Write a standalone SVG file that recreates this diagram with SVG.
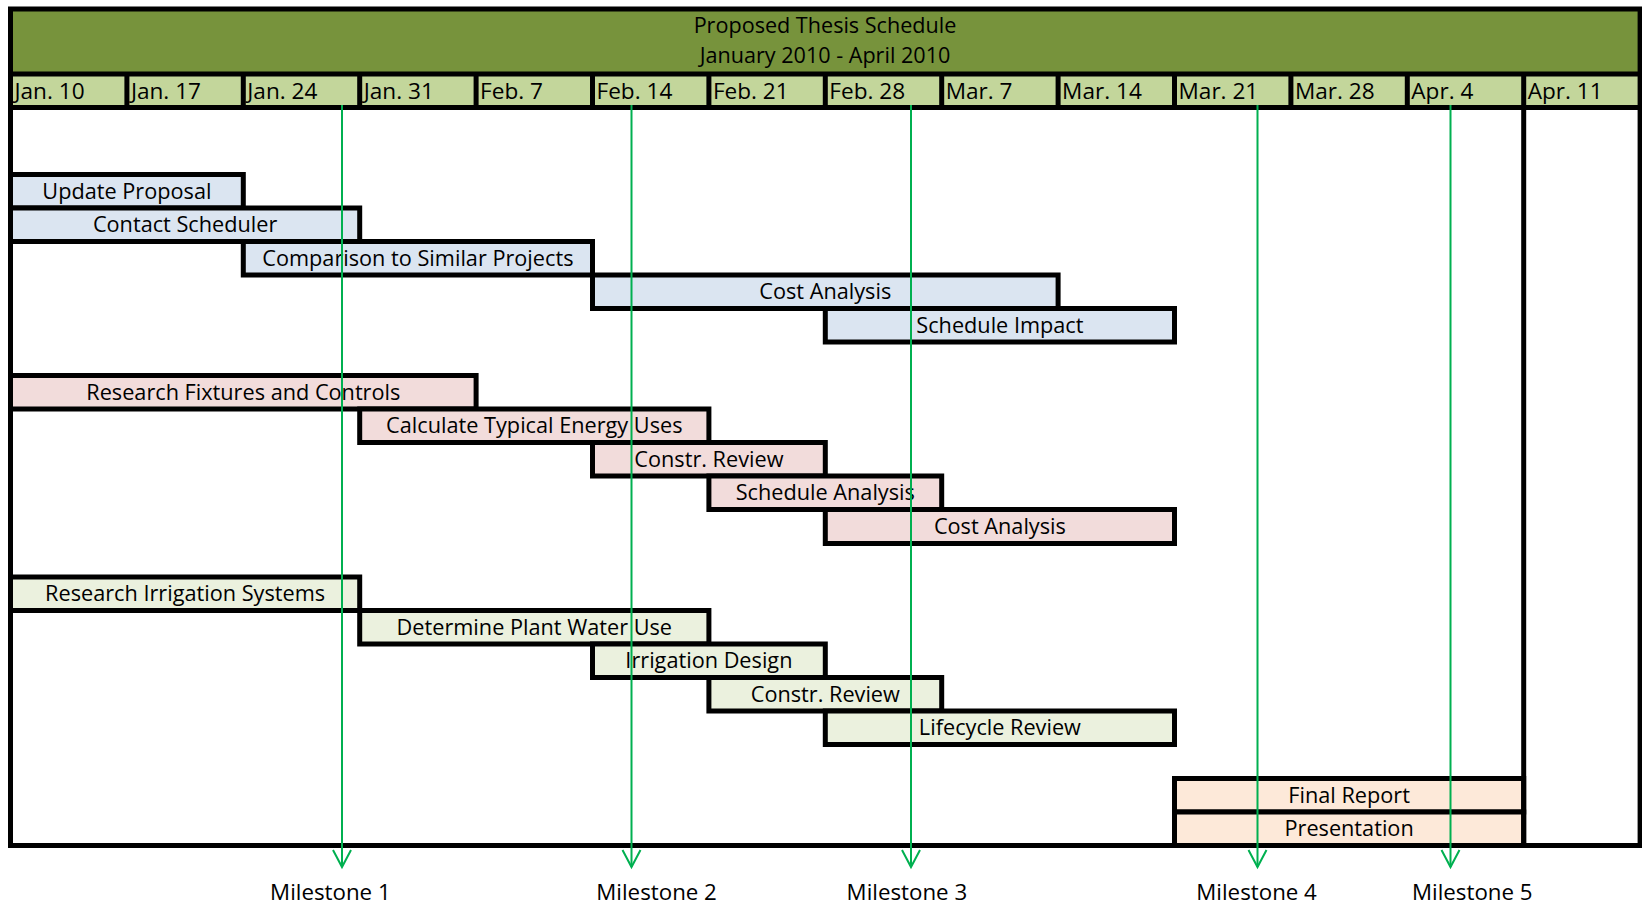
<svg xmlns="http://www.w3.org/2000/svg" width="1642" height="905" viewBox="0 0 1642 905">
<style>
text{font-family:"Open Sans","Liberation Sans",sans-serif;font-size:21.7px;fill:#000}
.c{text-anchor:middle}
.d{font-size:22.6px}
.m{font-size:22.3px}
.t{font-size:21.6px}
.bar{stroke:#000;stroke-width:5}
.blue{fill:#DBE5F1}.pink{fill:#F2DCDB}.grn{fill:#EBF1DE}.org{fill:#FDE9D9}
.date{fill:#C3D69B}
.ln{stroke:#000;stroke-width:5;fill:none}
.ms{stroke:#00B050;stroke-width:2;fill:none;marker-end:url(#ah)}
</style>
<defs>
<marker id="ah" markerUnits="userSpaceOnUse" markerWidth="24" markerHeight="24" viewBox="-20 -12 24 24" refX="0" refY="0" orient="auto">
<path d="M-17,-9 L0,0 L-17,9" fill="none" stroke="#00B050" stroke-width="2"/>
</marker>
</defs>
<rect width="1642" height="905" fill="#fff"/>
<g id="title">
<rect x="10.5" y="9" width="1629.6" height="65" fill="#77933C"/>
<text class="c t" x="825" y="33">Proposed Thesis Schedule</text>
<text class="c t" x="825" y="63">January 2010 - April 2010</text>
</g>
<g id="dates">
<rect class="date" x="10.5" y="74" width="1629.6" height="33.5"/>
<text class="d" x="14.5" y="99">Jan. 10</text>
<text class="d" x="130.9" y="99">Jan. 17</text>
<text class="d" x="247.3" y="99">Jan. 24</text>
<text class="d" x="363.7" y="99">Jan. 31</text>
<text class="d" x="480.1" y="99">Feb. 7</text>
<text class="d" x="596.5" y="99">Feb. 14</text>
<text class="d" x="712.9" y="99">Feb. 21</text>
<text class="d" x="829.3" y="99">Feb. 28</text>
<text class="d" x="945.7" y="99">Mar. 7</text>
<text class="d" x="1062.1" y="99">Mar. 14</text>
<text class="d" x="1178.5" y="99">Mar. 21</text>
<text class="d" x="1294.9" y="99">Mar. 28</text>
<text class="d" x="1411.3" y="99">Apr. 4</text>
<text class="d" x="1527.7" y="99">Apr. 11</text>
<path class="ln" d="M126.9,74V107.5M243.3,74V107.5M359.7,74V107.5M476.1,74V107.5M592.5,74V107.5M708.9,74V107.5M825.3,74V107.5M941.7,74V107.5M1058.1,74V107.5M1174.5,74V107.5M1290.9,74V107.5M1407.3,74V107.5"/>
</g>
<g id="bar-update-proposal"><rect class="bar blue" x="10.5" y="174.5" width="232.8" height="33.5"/><text class="c" x="126.9" y="198.5">Update Proposal</text></g>
<g id="bar-contact-scheduler"><rect class="bar blue" x="10.5" y="208" width="349.2" height="33.5"/><text class="c" x="185.1" y="232">Contact Scheduler</text></g>
<g id="bar-comparison"><rect class="bar blue" x="243.3" y="241.5" width="349.2" height="33.5"/><text class="c" x="417.9" y="265.5">Comparison to Similar Projects</text></g>
<g id="bar-cost-analysis-1"><rect class="bar blue" x="592.5" y="275" width="465.6" height="33.5"/><text class="c" x="825.3" y="299">Cost Analysis</text></g>
<g id="bar-schedule-impact"><rect class="bar blue" x="825.3" y="308.5" width="349.2" height="33.5"/><text class="c" x="999.9" y="332.5">Schedule Impact</text></g>

<g id="bar-research-fixtures"><rect class="bar pink" x="10.5" y="375.5" width="465.6" height="33.5"/><text class="c" x="243.3" y="399.5">Research Fixtures and Controls</text></g>
<g id="bar-calculate-energy"><rect class="bar pink" x="359.7" y="409" width="349.2" height="33.5"/><text class="c" x="534.3" y="433">Calculate Typical Energy Uses</text></g>
<g id="bar-constr-review-1"><rect class="bar pink" x="592.5" y="442.5" width="232.8" height="33.5"/><text class="c" x="708.9" y="466.5">Constr. Review</text></g>
<g id="bar-schedule-analysis"><rect class="bar pink" x="708.9" y="476" width="232.8" height="33.5"/><text class="c" x="825.3" y="500">Schedule Analysis</text></g>
<g id="bar-cost-analysis-2"><rect class="bar pink" x="825.3" y="509.5" width="349.2" height="34"/><text class="c" x="999.9" y="533.5">Cost Analysis</text></g>

<g id="bar-research-irrigation"><rect class="bar grn" x="10.5" y="577" width="349.2" height="33.5"/><text class="c" x="185.1" y="601">Research Irrigation Systems</text></g>
<g id="bar-plant-water"><rect class="bar grn" x="359.7" y="610.5" width="349.2" height="33.5"/><text class="c" x="534.3" y="634.5">Determine Plant Water Use</text></g>
<g id="bar-irrigation-design"><rect class="bar grn" x="592.5" y="644" width="232.8" height="33.5"/><text class="c" x="708.9" y="668">Irrigation Design</text></g>
<g id="bar-constr-review-2"><rect class="bar grn" x="708.9" y="677.5" width="232.8" height="33.5"/><text class="c" x="825.3" y="701.5">Constr. Review</text></g>
<g id="bar-lifecycle"><rect class="bar grn" x="825.3" y="711" width="349.2" height="33.5"/><text class="c" x="999.9" y="735">Lifecycle Review</text></g>

<g id="bar-final-report"><rect class="bar org" x="1174.5" y="778.5" width="349.2" height="33.5"/><text class="c" x="1349.1" y="802.5">Final Report</text></g>
<g id="bar-presentation"><rect class="bar org" x="1174.5" y="812" width="349.2" height="33.5"/><text class="c" x="1349.1" y="836">Presentation</text></g>

<g id="frame">
<path class="ln" d="M10.5,74H1640.1M10.5,107.5H1640.1M1523.7,74V845.5"/>
<rect class="ln" x="10.5" y="9" width="1629.6" height="836.5"/>
</g>
<g id="connectors">
<line class="ms" x1="342" y1="105" x2="342" y2="867"/>
<line class="ms" x1="631.5" y1="105" x2="631.5" y2="867"/>
<line class="ms" x1="911" y1="105" x2="911" y2="867"/>
<line class="ms" x1="1257.5" y1="105" x2="1257.5" y2="867"/>
<line class="ms" x1="1450.5" y1="105" x2="1450.5" y2="867"/>
</g>
<g id="milestones">
<text class="c m" x="330.4" y="900">Milestone 1</text>
<text class="c m" x="656.6" y="900">Milestone 2</text>
<text class="c m" x="906.9" y="900">Milestone 3</text>
<text class="c m" x="1256.6" y="900">Milestone 4</text>
<text class="c m" x="1472.3" y="900">Milestone 5</text>
</g>
</svg>
